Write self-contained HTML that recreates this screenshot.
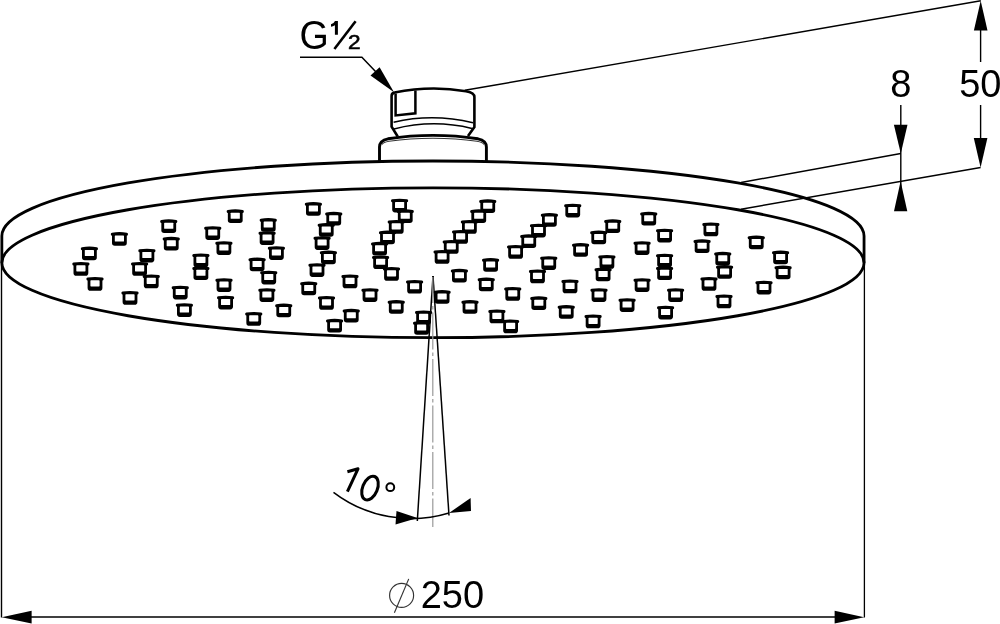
<!DOCTYPE html>
<html><head><meta charset="utf-8">
<style>
html,body{margin:0;padding:0;background:#fff;}
svg{display:block;will-change:transform;}
text{font-family:"Liberation Sans",sans-serif;}
</style></head>
<body>
<svg width="1000" height="624" viewBox="0 0 1000 624">
<defs>
<g id="nz">
  <path d="M -7.4 -5 L -7.4 4 Q -7.4 6.8 -4.6 6.8 L 4.6 6.8 Q 7.4 6.8 7.4 4 L 7.4 -5 Z" fill="#000"/>
  <path d="M -7.1 -4.8 Q 0 -6.0 7.1 -4.8" fill="none" stroke="#000" stroke-width="3" stroke-linecap="round"/>
  <rect x="-4.6" y="-3.6" width="9.2" height="6.1" rx="0.6" fill="#fff"/>
</g>
</defs>
<rect width="1000" height="624" fill="#fff"/>

<!-- base cap -->
<path d="M 379.5 161 L 379.5 147 Q 379.5 140.5 388 138.8 Q 410 135.4 433 135.4 Q 456 135.4 478 138.8 Q 486.4 140.5 486.4 147 L 486.4 161" fill="#fff" stroke="#000" stroke-width="2.9"/>
<path d="M 382 144.5 Q 383 142.3 389 141.2 Q 410 138.3 433 138.3 Q 456 138.3 477 141.2 Q 483 142.3 484 144.5" fill="none" stroke="#333" stroke-width="1.1"/>

<!-- nut -->
<path d="M 397.7 136.5 L 391.6 126.6 L 391.6 96 Q 391.6 93 394.5 92.6 A 190 190 0 0 1 466 91.2 Q 474.4 92.5 474.4 97 L 474.4 127 L 468 136" fill="none" stroke="#000" stroke-width="2.6"/>
<path d="M 395.6 93.5 L 395.6 115.4 L 415.4 113.3 L 415.4 90.5" fill="none" stroke="#000" stroke-width="2.5"/>
<path d="M 393.6 122.2 Q 433 113 473 122.8" fill="none" stroke="#000" stroke-width="1.5"/>
<path d="M 394 129 Q 433 119 472 128.5" fill="none" stroke="#000" stroke-width="1.5"/>

<!-- side lines (dimension extension) -->
<line x1="1.5" y1="262" x2="1.5" y2="617.5" stroke="#000" stroke-width="1.4"/>
<line x1="864.4" y1="262" x2="864.4" y2="617.5" stroke="#000" stroke-width="1.3"/>

<!-- outer rim top half ellipse + sides -->
<path d="M 1.85 262.75 L 1.85 235.95 A 431.1 74.95 0 0 1 864.05 235.95 L 864.05 262.75" fill="none" stroke="#000" stroke-width="2.8"/>
<!-- inner ellipse -->
<ellipse cx="432.95" cy="262.75" rx="431.1" ry="74.95" fill="none" stroke="#000" stroke-width="2.8"/>

<!-- nozzles -->
<use href="#nz" x="399.60" y="205.60"/>
<use href="#nz" x="487.75" y="206.25"/>
<use href="#nz" x="313.40" y="209.00"/>
<use href="#nz" x="572.75" y="210.60"/>
<use href="#nz" x="235.25" y="216.25"/>
<use href="#nz" x="405.25" y="216.25"/>
<use href="#nz" x="478.75" y="216.25"/>
<use href="#nz" x="333.75" y="218.75"/>
<use href="#nz" x="648.75" y="218.75"/>
<use href="#nz" x="549.40" y="220.00"/>
<use href="#nz" x="268.25" y="225.00"/>
<use href="#nz" x="168.75" y="226.25"/>
<use href="#nz" x="612.75" y="226.25"/>
<use href="#nz" x="396.25" y="226.90"/>
<use href="#nz" x="469.40" y="226.90"/>
<use href="#nz" x="710.90" y="229.40"/>
<use href="#nz" x="326.25" y="230.00"/>
<use href="#nz" x="538.50" y="230.60"/>
<use href="#nz" x="212.75" y="233.10"/>
<use href="#nz" x="664.60" y="235.60"/>
<use href="#nz" x="460.60" y="236.90"/>
<use href="#nz" x="387.50" y="237.50"/>
<use href="#nz" x="598.75" y="237.50"/>
<use href="#nz" x="267.10" y="238.10"/>
<use href="#nz" x="119.40" y="239.00"/>
<use href="#nz" x="528.75" y="241.25"/>
<use href="#nz" x="756.25" y="242.50"/>
<use href="#nz" x="322.10" y="243.10"/>
<use href="#nz" x="171.25" y="243.75"/>
<use href="#nz" x="702.10" y="246.25"/>
<use href="#nz" x="451.25" y="246.90"/>
<use href="#nz" x="223.90" y="248.10"/>
<use href="#nz" x="642.10" y="248.10"/>
<use href="#nz" x="379.60" y="248.75"/>
<use href="#nz" x="580.60" y="250.00"/>
<use href="#nz" x="515.60" y="251.90"/>
<use href="#nz" x="276.40" y="253.10"/>
<use href="#nz" x="89.40" y="253.50"/>
<use href="#nz" x="146.90" y="255.60"/>
<use href="#nz" x="442.10" y="256.90"/>
<use href="#nz" x="328.40" y="257.50"/>
<use href="#nz" x="780.60" y="257.50"/>
<use href="#nz" x="722.75" y="258.75"/>
<use href="#nz" x="200.90" y="260.40"/>
<use href="#nz" x="664.60" y="260.60"/>
<use href="#nz" x="606.90" y="261.90"/>
<use href="#nz" x="380.60" y="262.30"/>
<use href="#nz" x="548.75" y="263.10"/>
<use href="#nz" x="257.10" y="264.50"/>
<use href="#nz" x="490.60" y="265.00"/>
<use href="#nz" x="80.90" y="268.90"/>
<use href="#nz" x="139.60" y="268.90"/>
<use href="#nz" x="317.00" y="270.10"/>
<use href="#nz" x="724.60" y="272.00"/>
<use href="#nz" x="783.10" y="272.50"/>
<use href="#nz" x="200.90" y="273.25"/>
<use href="#nz" x="664.60" y="273.25"/>
<use href="#nz" x="391.50" y="273.90"/>
<use href="#nz" x="603.10" y="274.50"/>
<use href="#nz" x="459.40" y="275.75"/>
<use href="#nz" x="537.50" y="276.40"/>
<use href="#nz" x="268.75" y="277.60"/>
<use href="#nz" x="151.25" y="281.40"/>
<use href="#nz" x="350.00" y="281.40"/>
<use href="#nz" x="95.00" y="283.90"/>
<use href="#nz" x="709.00" y="283.90"/>
<use href="#nz" x="486.25" y="284.50"/>
<use href="#nz" x="224.00" y="285.10"/>
<use href="#nz" x="642.10" y="285.10"/>
<use href="#nz" x="570.00" y="286.40"/>
<use href="#nz" x="414.60" y="286.80"/>
<use href="#nz" x="764.00" y="287.60"/>
<use href="#nz" x="308.75" y="288.50"/>
<use href="#nz" x="180.25" y="292.60"/>
<use href="#nz" x="512.75" y="293.90"/>
<use href="#nz" x="266.90" y="295.10"/>
<use href="#nz" x="370.00" y="295.10"/>
<use href="#nz" x="599.00" y="295.10"/>
<use href="#nz" x="675.60" y="295.10"/>
<use href="#nz" x="442.10" y="297.00"/>
<use href="#nz" x="130.00" y="297.90"/>
<use href="#nz" x="724.00" y="301.40"/>
<use href="#nz" x="225.60" y="302.60"/>
<use href="#nz" x="326.50" y="302.90"/>
<use href="#nz" x="538.80" y="303.25"/>
<use href="#nz" x="627.10" y="305.10"/>
<use href="#nz" x="396.25" y="307.00"/>
<use href="#nz" x="470.00" y="307.00"/>
<use href="#nz" x="184.40" y="310.10"/>
<use href="#nz" x="283.75" y="310.50"/>
<use href="#nz" x="566.25" y="312.00"/>
<use href="#nz" x="665.60" y="312.60"/>
<use href="#nz" x="351.25" y="315.75"/>
<use href="#nz" x="496.90" y="316.40"/>
<use href="#nz" x="423.60" y="317.40"/>
<use href="#nz" x="253.75" y="318.90"/>
<use href="#nz" x="593.10" y="321.40"/>
<use href="#nz" x="334.60" y="325.75"/>
<use href="#nz" x="510.60" y="326.40"/>
<use href="#nz" x="421.60" y="328.00"/>

<!-- extension lines -->
<line x1="464.8" y1="90.3" x2="980.8" y2="0.8" stroke="#000" stroke-width="1.4"/>
<line x1="741" y1="182.5" x2="900.8" y2="153.5" stroke="#000" stroke-width="1.4"/>
<line x1="741" y1="209.2" x2="980.6" y2="167.5" stroke="#000" stroke-width="1.4"/>

<!-- dim 50 -->
<line x1="980.6" y1="25" x2="980.6" y2="62" stroke="#000" stroke-width="1.4"/>
<line x1="980.6" y1="105" x2="980.6" y2="145" stroke="#000" stroke-width="1.4"/>
<polygon points="980.7,0.8 973.9,30.5 987.5,30.5" fill="#000"/>
<polygon points="980.6,167.5 973.8,138 987.4,138" fill="#000"/>
<!-- dim 8 -->
<line x1="900.8" y1="105" x2="900.8" y2="190" stroke="#000" stroke-width="1.4"/>
<polygon points="900.8,153.5 893.9,124.8 907.5,124.8" fill="#000"/>
<polygon points="900.6,181.2 894,211.3 907.3,211.3" fill="#000"/>
<text x="900.7" y="96.8" font-size="38" text-anchor="middle">8</text>
<text x="959.2" y="96.8" font-size="38">50</text>

<!-- G1/2 label -->
<text x="0" y="0" font-size="40" transform="translate(299.6,49) scale(0.94,1)">G</text>
<path d="M 335 21 L 337.9 21 L 337.9 34.7 L 334.9 34.7 L 334.9 25.3 Q 333 26.4 331 26.8 L 331 24.3 Q 334 23.2 335 21 Z" fill="#000"/>
<line x1="334.4" y1="49" x2="355.6" y2="21.2" stroke="#000" stroke-width="2.6"/>
<text x="0" y="0" font-size="20.2" transform="translate(348.1,49) scale(1.12,1)" stroke="#000" stroke-width="0.6">2</text>
<polyline points="300,57.2 361.9,57.2 376,72" fill="none" stroke="#000" stroke-width="1.5"/>
<polygon points="394,92.2 370.5,75.6 379.6,67.3" fill="#000"/>

<!-- spray cone -->
<line x1="433" y1="276" x2="417.3" y2="521" stroke="#000" stroke-width="1.5"/>
<line x1="433" y1="276" x2="449" y2="515.5" stroke="#000" stroke-width="1.5"/>
<line x1="432.8" y1="277" x2="432.8" y2="527" stroke="#999" stroke-width="1.2" stroke-dasharray="37 3 3.5 3" stroke-dashoffset="11.1"/>
<path d="M 333.5 492.3 A 128.7 128.7 0 0 0 449 513" fill="none" stroke="#000" stroke-width="1.5"/>
<polygon points="417.5,518 396.5,511 395.5,524.5" fill="#000"/>
<polygon points="449,513 470.6,498 471,511" fill="#000"/>
<path d="M 347.4 471.7 L 358 468.8 L 347.4 491.7" fill="none" stroke="#000" stroke-width="3" stroke-linejoin="round"/>
<ellipse cx="370" cy="488.1" rx="7.4" ry="12.5" transform="rotate(22 370 488.1)" fill="none" stroke="#000" stroke-width="3"/>
<circle cx="390.3" cy="487.2" r="3.9" fill="none" stroke="#000" stroke-width="2"/>

<!-- diameter dim -->
<line x1="31" y1="617" x2="835" y2="617" stroke="#000" stroke-width="1.5"/>
<polygon points="1.7,617.2 31.6,610.7 31.6,623.5" fill="#000"/>
<polygon points="864.2,617.2 834.6,610.7 834.6,623.5" fill="#000"/>
<circle cx="401.6" cy="595.4" r="12" fill="none" stroke="#333" stroke-width="1.15"/>
<line x1="394.4" y1="612.7" x2="408.75" y2="578.9" stroke="#333" stroke-width="1.15"/>
<text x="420.7" y="608.2" font-size="38">250</text>
</svg>
</body></html>
